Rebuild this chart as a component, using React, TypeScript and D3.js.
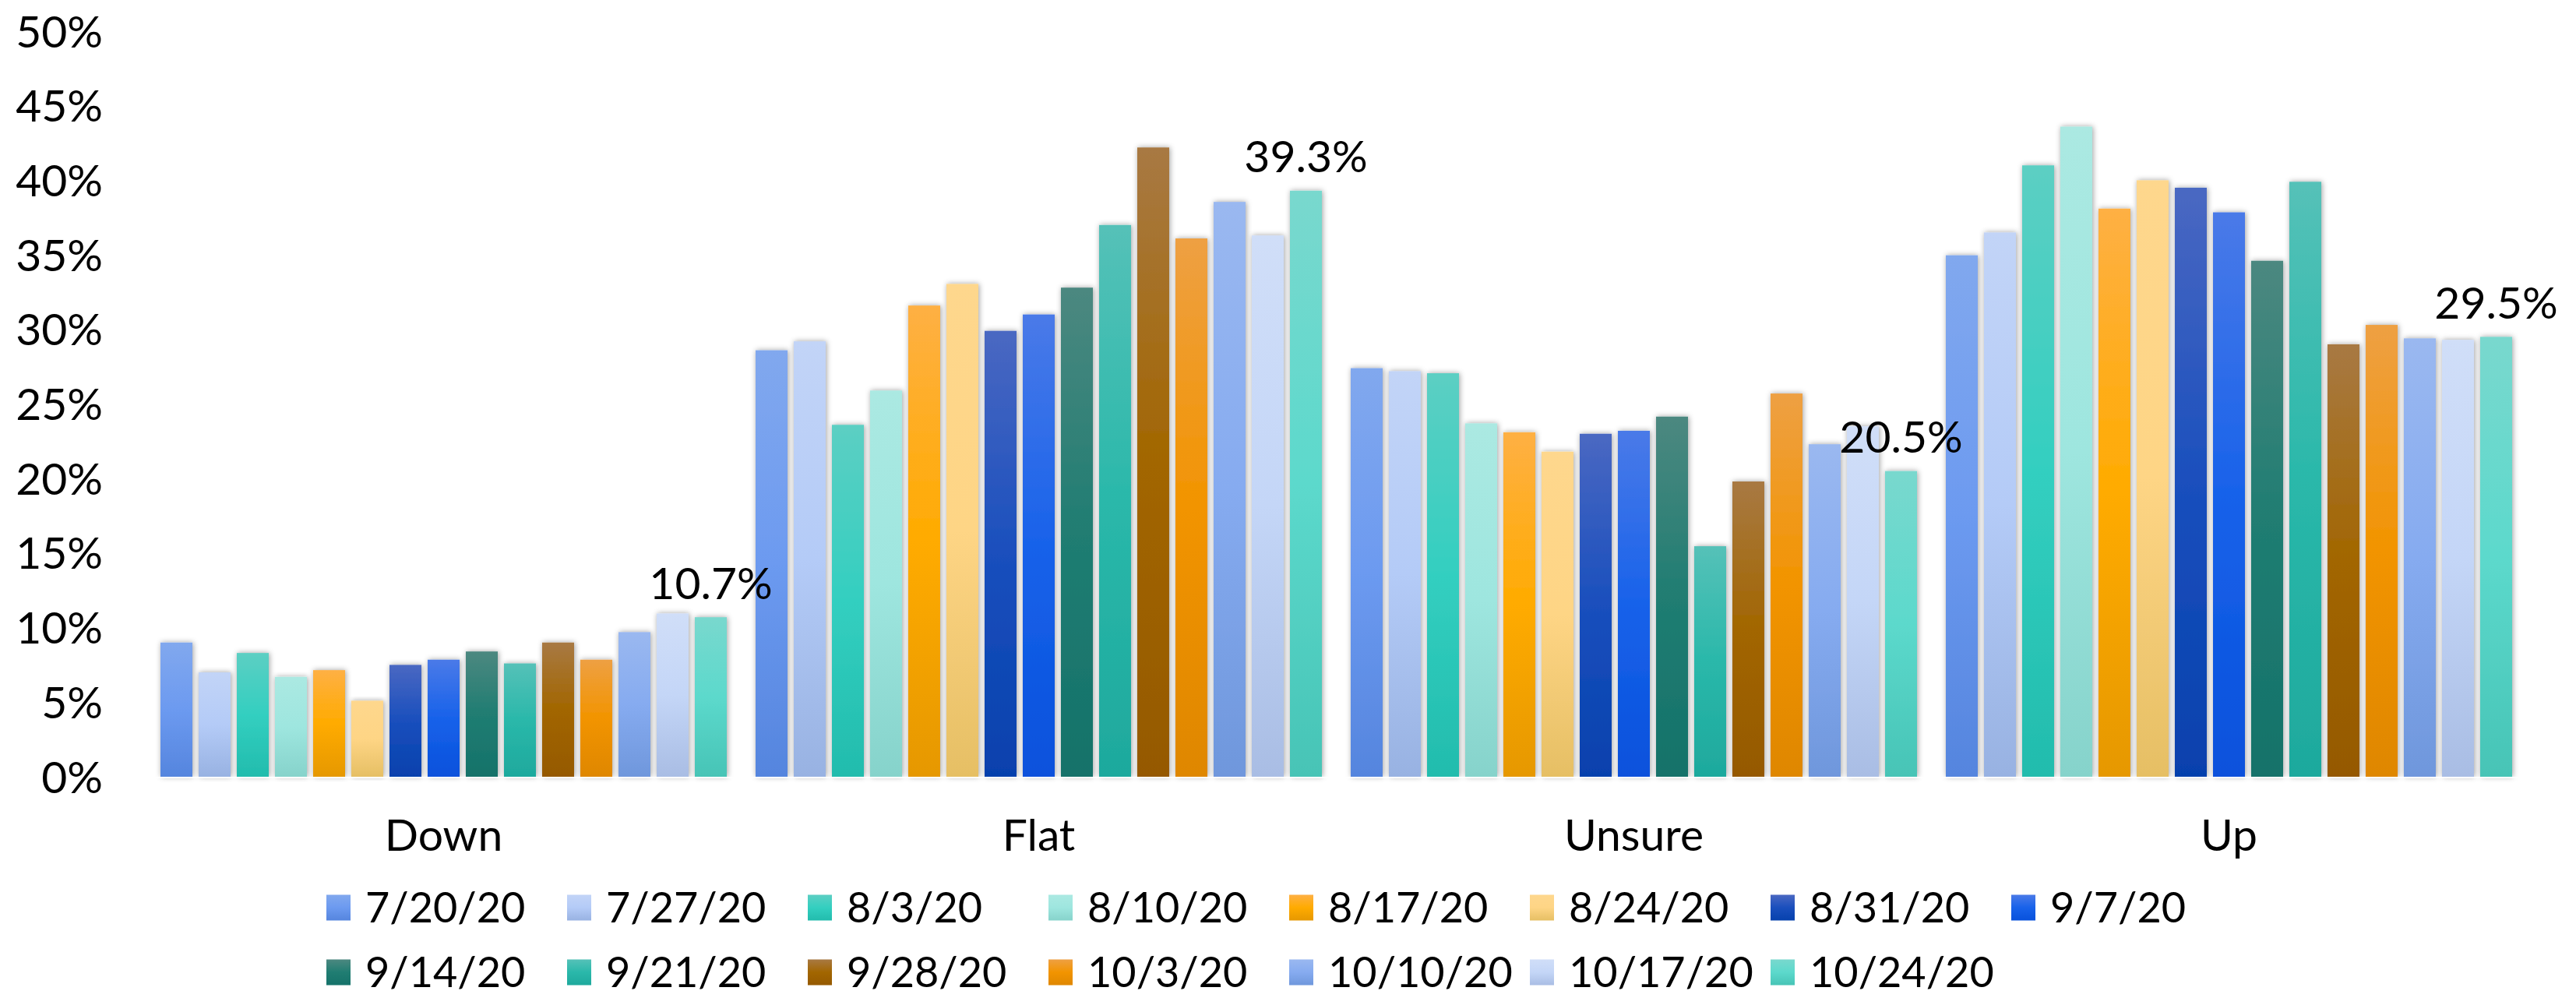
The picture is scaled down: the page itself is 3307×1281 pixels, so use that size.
import React from "react";
import * as d3 from "d3";

const categories = ["Down", "Flat", "Unsure", "Up"];
const seriesNames = [
  "7/20/20", "7/27/20", "8/3/20", "8/10/20", "8/17/20", "8/24/20", "8/31/20", "9/7/20",
  "9/14/20", "9/21/20", "9/28/20", "10/3/20", "10/10/20", "10/17/20", "10/24/20",
];
// values per series: [Down, Flat, Unsure, Up]
const downValues = [9.0, 7.0, 8.3, 6.7, 7.15, 5.1, 7.5, 7.85, 8.4, 7.6, 9.0, 7.85, 9.7, 10.95, 10.7];
const flatValues = [28.6, 29.2, 23.6, 25.9, 31.6, 33.05, 29.9, 31.0, 32.8, 37.0, 42.2, 36.1, 38.55, 36.3, 39.3];
const unsureValues = [27.4, 27.2, 27.06, 23.7, 23.1, 21.8, 23.0, 23.2, 24.15, 15.46, 19.8, 25.7, 22.3, 23.5, 20.5];
const upValues = [34.97, 36.5, 41.0, 43.6, 38.1, 40.0, 39.5, 37.85, 34.6, 39.9, 29.0, 30.3, 29.4, 29.3, 29.5];
const yTicks = [0, 5, 10, 15, 20, 25, 30, 35, 40, 45, 50];

// gradient stops: top, middle, bottom
const seriesColors = [
  ["#81a8ee", "#6c9af0", "#5585de"],
  ["#c2d4f7", "#b4cbf7", "#98b2e2"],
  ["#5ccfc3", "#33cfc0", "#22bcad"],
  ["#abe9e2", "#9ee6df", "#86d3cb"],
  ["#feb044", "#ffab00", "#e69800"],
  ["#fed78d", "#fed585", "#e6bf64"],
  ["#4a68c2", "#1a4fbd", "#0641ad"],
  ["#4a7ae8", "#1862ea", "#0851dc"],
  ["#4c8880", "#207d72", "#15726a"],
  ["#55c1b8", "#2ab8aa", "#1ea99d"],
  ["#a87943", "#a26600", "#955900"],
  ["#eea043", "#f29400", "#df8700"],
  ["#9ab8f0", "#86abf0", "#6f97dc"],
  ["#d0def8", "#c4d6f7", "#a9bde4"],
  ["#79d8ce", "#5cd9cc", "#47c4b6"],
];

const valuesByCategory = [downValues, flatValues, unsureValues, upValues];

const W = 3307;
const H = 1281;
const FONT = "Lato, 'Open Sans', sans-serif";

export default function App() {
  const x0 = d3.scaleBand<string>().domain(categories).range([187.5, 3243.5]);
  const x1 = d3
    .scaleBand<string>()
    .domain(seriesNames)
    .range([18.5, 745.5])
    .paddingInner(8 / 49)
    .paddingOuter(0);
  const y = d3.scaleLinear().domain([0, 50]).range([997, 40]);

  const legendCols = 8;
  const legendX = (i: number) => 419 + (i % legendCols) * 309;
  const legendY = (i: number) => (i < legendCols ? 1165 : 1248);

  return (
    <svg
      width={W}
      height={H}
      style={{ position: "absolute", left: 0, top: 0, background: "#fff" }}
      fontFamily={FONT}
    >
      <defs>
        {seriesColors.map((c, i) => (
          <linearGradient key={i} id={`g${i}`} x1="0" y1="0" x2="0" y2="1">
            <stop offset="0%" stopColor={c[0]} />
            <stop offset="50%" stopColor={c[1]} />
            <stop offset="100%" stopColor={c[2]} />
          </linearGradient>
        ))}
        <filter id="shadow" x="-30%" y="-5%" width="160%" height="110%">
          <feDropShadow dx="1" dy="0" stdDeviation="3.5" floodColor="#000" floodOpacity="0.38" />
        </filter>
        <filter id="lineblur" x="-1%" y="-200%" width="102%" height="500%">
          <feGaussianBlur stdDeviation="0.8" />
        </filter>
      </defs>
      <rect x={0} y={0} width={W} height={H} fill="#fff" />

      {/* axis line shadow */}
      <line x1={198} x2={3228} y1={1000} y2={1000} stroke="#7a7a7a" strokeWidth={2.2} filter="url(#lineblur)" />

      {/* bars */}
      {categories.map((cat, ci) => (
        <g key={cat} transform={`translate(${x0(cat)},0)`}>
          {seriesNames.map((s, si) => {
            const v = valuesByCategory[ci][si];
            return (
              <rect
                key={s}
                x={x1(s)}
                y={y(v)}
                width={x1.bandwidth()}
                height={y(0) - y(v)}
                fill={`url(#g${si})`}
                filter="url(#shadow)"
              />
            );
          })}
        </g>
      ))}

      <line x1={190} x2={3240} y1={998} y2={998} stroke="#ffffff" strokeWidth={2} />

      {/* data labels for last series */}
      {categories.map((cat, ci) => {
        const s = seriesNames[seriesNames.length - 1];
        const v = valuesByCategory[ci][seriesNames.length - 1];
        const cx = (x0(cat) as number) + (x1(s) as number) + x1.bandwidth() / 2;
        return (
          <text
            key={cat}
            x={cx}
            y={y(v) - 44}
            dy="0.36em"
            textAnchor="middle"
            fontSize={57}
            fill="#000"
          >
            {v.toFixed(1)}%
          </text>
        );
      })}

      {/* y axis ticks */}
      {yTicks.map((t) => (
        <text key={t} x={132} y={y(t)} dy="0.36em" textAnchor="end" fontSize={57} fill="#000">
          {t}%
        </text>
      ))}

      {/* category labels */}
      {categories.map((cat) => (
        <text
          key={cat}
          x={(x0(cat) as number) + x0.bandwidth() / 2}
          y={1071}
          dy="0.36em"
          textAnchor="middle"
          fontSize={57}
          fill="#000"
        >
          {cat}
        </text>
      ))}

      {/* legend */}
      {seriesNames.map((s, i) => (
        <g key={s}>
          <rect x={legendX(i)} y={legendY(i) - 16.5} width={31} height={33} fill={`url(#g${i})`} />
          <text x={legendX(i) + 50} y={legendY(i)} dy="0.36em" fontSize={54} fill="#000">
            {s}
          </text>
        </g>
      ))}
    </svg>
  );
}
